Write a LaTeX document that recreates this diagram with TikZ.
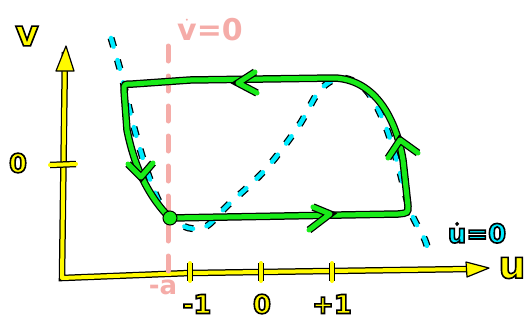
\documentclass[tikz,border=0pt]{standalone}
\usepackage{fontspec}
\setsansfont{DejaVu Sans}
\usetikzlibrary{calc}

\definecolor{axisyel}{RGB}{255,250,0}
\definecolor{cycgreen}{RGB}{25,235,25}
\definecolor{nullcyan}{RGB}{0,235,255}
\definecolor{nullpink}{RGB}{245,172,168}

% filled letters with a black rim
\newcommand{\rimtext}[1]{\special{pdf:literal direct 2 Tr 1.6 w 0 0 0 RG}#1\special{pdf:literal direct 0 Tr}}

\begin{document}
\begin{tikzpicture}[
  x=1pt, y=-1pt,
  ink/.style={line cap=round, line join=round},
  axisline/.style={ink, draw=axisyel, line width=4pt, preaction={draw=black, line width=6.5pt}},
  axishead/.style={ink, fill=axisyel, draw=black, line width=1.2pt},
  cycpath/.style={ink, draw=cycgreen, line width=5pt, preaction={draw=black, line width=7.5pt}},
  udotnull/.style={ink, draw=nullcyan, line width=4.5pt, dash pattern=on 9pt off 14pt,
    preaction={draw=black, line width=7pt, dash pattern=on 9pt off 14pt}},
  vdotnull/.style={ink, draw=nullpink, line width=5pt, dash pattern=on 15pt off 15pt},
  lab/.style={font=\fontsize{26}{26}\selectfont\sffamily\bfseries, inner sep=0pt}
]
\useasboundingbox (0,0) rectangle (530,322);

% ---- axes ----
\draw[axisline] (65,52) -- (63,200) -- (62,278) -- (190,273) -- (470,269);
\filldraw[axishead] (66,46) -- (74,71) -- (56,71) -- cycle;
\filldraw[axishead] (489,268) -- (466,262) -- (467,277) -- cycle;
\draw[axisline] (50,165) -- (76,164);
\foreach \tx in {190,261,332}
  \draw[axisline] (\tx,263) -- (\tx,281);

% ---- nullclines ----
\draw[vdotnull] (168,46) -- (168,272);
\draw[udotnull] plot[smooth, tension=0.55] coordinates {
  (111,38) (121,73) (132,120) (146,168) (162,207) (183,226) (205,227)
  (228,205) (265,170) (298,127) (320,90) (342,78) (366,90) (384,122)
  (398,165) (410,210) (425,240) (428,252)};

% ---- limit cycle ----
\coordinate (tl) at (124,90);
\coordinate (tr) at (335,78);
\coordinate (br) at (408,206);
\coordinate (bl) at (170,218);
\draw[cycpath] (tl) .. controls (124,84) .. (133,84) -- (190,80) -- (tr)
  .. controls (375,80) and (396,118) .. (403,160) -- (br)
  .. controls (408,213) .. (398,214) -- (bl)
  .. controls (150,198) and (135,170) .. (127,130) -- cycle;
\draw[cycpath] (255,72) -- (238,83) -- (257,93);
\draw[cycpath] (128,164) -- (141,177) -- (153,163);
\draw[cycpath] (313,207) -- (330,214) -- (309,230);
\draw[cycpath] (388,158) -- (400,140) -- (418,153);
\fill[cycgreen, draw=black, line width=1pt] (bl) circle (7);

% ---- labels ----
\node[lab, text=axisyel, font=\fontsize{36}{36}\selectfont\sffamily\bfseries] (vlab) at (27,36) {\rimtext{v}};
\node[lab, text=axisyel, font=\fontsize{38}{38}\selectfont\sffamily\bfseries] (ulab) at (512,268) {\rimtext{u}};
\node[lab, text=axisyel] (vzero) at (18,163) {\rimtext{0}};
\node[lab, text=axisyel] (mone) at (197,304) {\rimtext{-1}};
\node[lab, text=axisyel] (uzero) at (262,304) {\rimtext{0}};
\node[lab, text=axisyel] (pone) at (332,304) {\rimtext{+1}};
\node[lab, text=nullpink] (alab) at (163,287) {-a};
\node[lab, text=nullpink, font=\fontsize{30}{30}\selectfont\sffamily\bfseries] (vnull) at (210,30) {$\dot{\hbox{v}}$=0};
\node[lab, text=nullcyan] (unull) at (477,233) {\rimtext{$\dot{\hbox{u}}$=0}};
\end{tikzpicture}
\end{document}
